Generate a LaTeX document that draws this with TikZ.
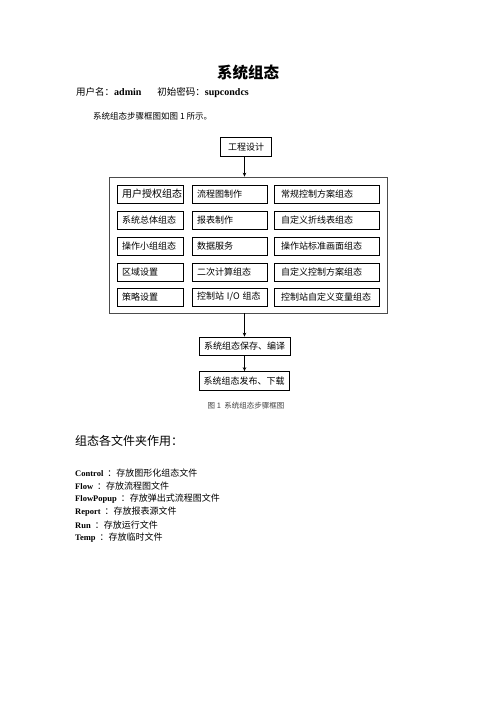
\documentclass[tikz,border=0pt]{standalone}
\usepackage{fontspec}
\setmainfont{Liberation Serif}
\newfontfamily\cjk{Noto Sans CJK SC}
\usetikzlibrary{arrows.meta}

\begin{document}
\begin{tikzpicture}[x=1pt,y=-1pt,>={Stealth[length=4pt,width=3.5pt]}]
\tikzset{
  cell/.style={draw,line width=0.7pt,minimum height=18pt,inner ysep=0pt,inner xsep=5pt,
    align=left,font=\cjk\fontsize{9}{9}\selectfont},
  colA/.style={cell,text width=56pt},
  colB/.style={cell,text width=65pt},
  colC/.style={cell,text width=91pt,inner xsep=7pt},
  stepbox/.style={draw,line width=0.7pt,minimum height=19pt,inner sep=0pt,
    font=\cjk\fontsize{9}{9}\selectfont},
  line/.style={anchor=west,inner sep=0pt},
}
\fill[white](0,0)rectangle(496,702);
\useasboundingbox(0,0)rectangle(496,702);

% heading text
\node(title)at(248,73){\cjk\fontsize{15.5}{16}\selectfont\bfseries 系统组态};
\node[line](user)at(76,93){{\cjk\fontsize{9.5}{10}\selectfont 用户名：}\fontsize{10}{10}\selectfont\textbf{admin}\hspace{16pt}{\cjk\fontsize{9.5}{10}\selectfont 初始密码：}\textbf{supcondcs}};
\node[line](intro)at(93,116){\cjk\fontsize{8.5}{9}\selectfont 系统组态步骤框图如图 1 所示。};

% flow chart
\node[stepbox,minimum width=51pt](proj)at(246,147){工程设计};
\node[draw=black!70,line width=0.7pt,minimum width=278pt,minimum height=136pt](frame)at(248,245){};

\node[colA,font=\cjk\fontsize{10}{10}\selectfont](a1)at(150,194){用户授权组态};
\node[colB](b1)at(229.5,194){流程图制作};
\node[colC](c1)at(326.5,194){常规控制方案组态};
\node[colA](a2)at(150,220){系统总体组态};
\node[colB](b2)at(229.5,220){报表制作};
\node[colC](c2)at(326.5,220){自定义折线表组态};
\node[colA](a3)at(150,246){操作小组组态};
\node[colB](b3)at(229.5,246){数据服务};
\node[colC](c3)at(326.5,246){操作站标准画面组态};
\node[colA](a4)at(150,272){区域设置};
\node[colB](b4)at(229.5,272){二次计算组态};
\node[colC](c4)at(326.5,272){自定义控制方案组态};
\node[colA](a5)at(150,297){策略设置};
\node[colB](b5)at(229.5,297){控制站 I/O 组态};
\node[colC](c5)at(326.5,297){控制站自定义变量组态};

\node[stepbox,minimum width=91pt,minimum height=18pt](save)at(244.5,346){系统组态保存、编译};
\node[stepbox,minimum width=90pt](pub)at(244,381){系统组态发布、下载};
\node[text=black!75](cap)at(246,406){\cjk\fontsize{7.5}{8}\selectfont 图 1\ \ 系统组态步骤框图};

\draw[->,line width=0.7pt](proj.south-|save)--(save|-frame.north);
\draw[->,line width=0.7pt](save|-frame.south)--(save.north);
\draw[->,line width=0.7pt](save.south)--(save.south|-pub.north);

% folder list
\node[line](head)at(75,441){\cjk\fontsize{12}{12}\selectfont 组态各文件夹作用：};
\node[line](l1)at(75,473){\textbf{\fontsize{8.5}{9}\selectfont Control}\hspace{4pt}{\cjk\fontsize{9}{9}\selectfont ：存放图形化组态文件}};
\node[line](l2)at(75,486){\textbf{\fontsize{8.5}{9}\selectfont Flow}\hspace{4pt}{\cjk\fontsize{9}{9}\selectfont ：存放流程图文件}};
\node[line](l3)at(75,499){\textbf{\fontsize{8.5}{9}\selectfont FlowPopup}\hspace{4pt}{\cjk\fontsize{9}{9}\selectfont ：存放弹出式流程图文件}};
\node[line](l4)at(75,512){\textbf{\fontsize{8.5}{9}\selectfont Report}\hspace{4pt}{\cjk\fontsize{9}{9}\selectfont ：存放报表源文件}};
\node[line](l5)at(75,525){\textbf{\fontsize{8.5}{9}\selectfont Run}\hspace{4pt}{\cjk\fontsize{9}{9}\selectfont ：存放运行文件}};
\node[line](l6)at(75,538){\textbf{\fontsize{8.5}{9}\selectfont Temp}\hspace{4pt}{\cjk\fontsize{9}{9}\selectfont ：存放临时文件}};
\end{tikzpicture}
\end{document}
